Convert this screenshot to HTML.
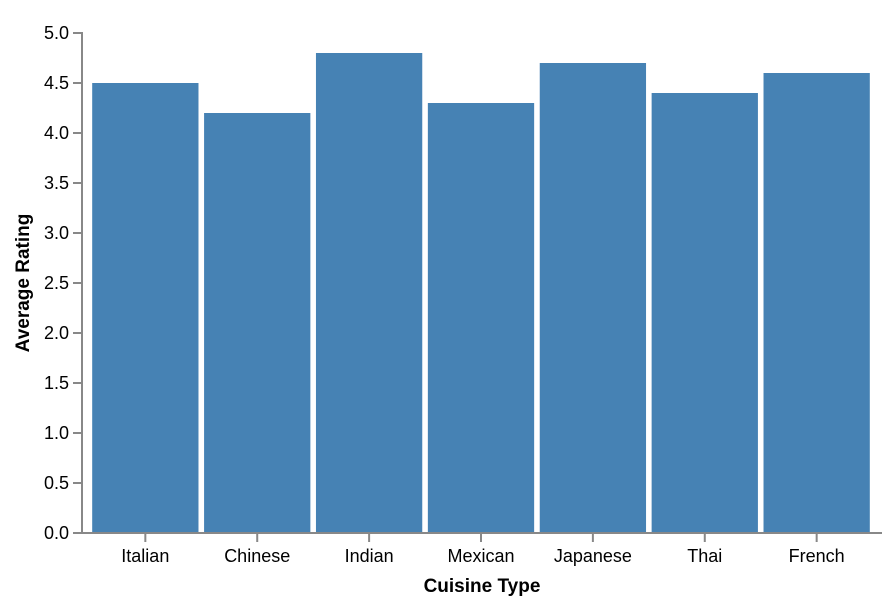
<!DOCTYPE html>
<html><head><meta charset="utf-8"><style>
body{margin:0;background:#fff;}
svg text{font-family:"Liberation Sans",Arial,sans-serif;}
</style></head><body>
<svg id="chart" width="892" height="606" xmlns="http://www.w3.org/2000/svg"></svg>
<script>
const categories=["Italian","Chinese","Indian","Mexican","Japanese","Thai","French"];
const ratings=[4.5,4.2,4.8,4.3,4.7,4.4,4.6];
const yTicks=[0,0.5,1,1.5,2,2.5,3,3.5,4,4.5,5];
const NS="http://www.w3.org/2000/svg";
const svg=document.getElementById('chart');
const L=82,R=882,T=33,B=533;
const pi=0.05,po=0.1;
const step=(R-L)/(categories.length-pi+2*po);
const bw=step*(1-pi);
function xBand(i){return L-1+step*po+i*step;}
function y(v){return B-(v/5)*(B-T);}
function mk(tag,attrs,txt){const e=document.createElementNS(NS,tag);for(const k in attrs)e.setAttribute(k,attrs[k]);if(txt!==undefined)e.textContent=txt;svg.appendChild(e);return e;}
ratings.forEach((v,i)=>{
  const r=mk('rect',{x:xBand(i),y:y(v),width:bw,height:B-y(v),fill:'#4682b4'});
  
  
});
yTicks.forEach(t=>{
  const l=mk('line',{x1:L-9,x2:L,y1:y(t),y2:y(t),stroke:'#888','stroke-width':2});
  
  
  const tx=mk('text',{x:L-13,y:y(t)+6,'text-anchor':'end','font-size':18,fill:'#000'},t.toFixed(1));
  
  
});
categories.forEach((c,i)=>{
  const cx=xBand(i)+bw/2;
  const l=mk('line',{x1:cx,x2:cx,y1:B,y2:B+9,stroke:'#888','stroke-width':2});
  
  
  const tx=mk('text',{x:cx,y:B+29,'text-anchor':'middle','font-size':18,fill:'#000'},c);
  
  
});
const ya=mk('line',{x1:L,x2:L,y1:T-1,y2:B+1,stroke:'#888','stroke-width':2});


const xa=mk('line',{x1:L-1,x2:R,y1:B,y2:B,stroke:'#888','stroke-width':2});


const xt=mk('text',{x:(L+R)/2,y:592,'text-anchor':'middle','font-size':19,'font-weight':'bold'},'Cuisine Type');


const yt=mk('text',{x:0,y:0,transform:'translate(29,'+((T+B)/2)+') rotate(-90)','text-anchor':'middle','font-size':19,'font-weight':'bold'},'Average Rating');


</script>
</body></html>
